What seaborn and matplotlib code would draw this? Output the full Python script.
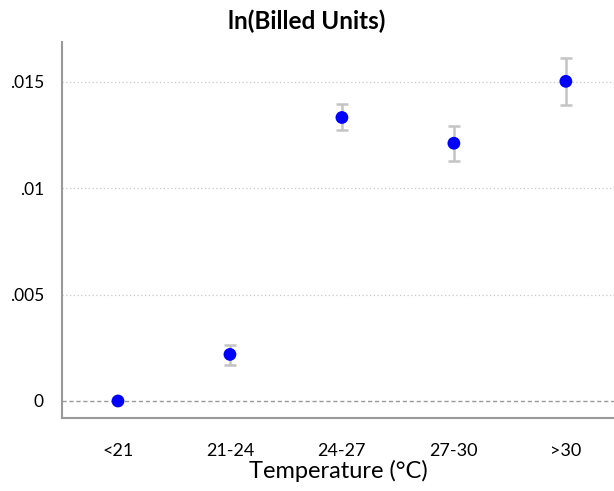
import matplotlib
matplotlib.use("Agg")
import matplotlib.pyplot as plt
import seaborn as sns
import pandas as pd
import numpy as np

categories = ["<21", "21-24", "24-27", "27-30", ">30"]
estimates = [0.0, 0.00219, 0.01333, 0.01212, 0.01503]
ci_low = [0.0, 0.00169, 0.01272, 0.01127, 0.01393]
ci_high = [0.0, 0.00263, 0.01396, 0.01295, 0.01615]
y_ticks = [0, 0.005, 0.01, 0.015]
y_ticklabels = ["0", ".005", ".01", ".015"]

sns.set_style("white")
plt.rcParams["font.family"] = ["Lato", "DejaVu Sans"]
plt.rcParams["text.color"] = "black"
plt.rcParams["axes.labelcolor"] = "black"

df = pd.DataFrame({"cat": categories, "est": estimates, "lo": ci_low, "hi": ci_high})
df["x"] = np.arange(len(df))

fig = plt.figure(figsize=(6.14, 4.91), dpi=100)
ax = fig.add_axes([62/614, 1 - 418/491, 1 - 62/614, (418 - 42)/491])

for y in y_ticks[1:]:
    ax.axhline(y, color="#c8c8c8", lw=0.9, ls=(0, (1, 2)), zorder=0)
ax.axhline(0, color="#999999", lw=1.0, ls=(0, (3, 2)), zorder=0)

mask = df["hi"] > df["lo"]
ax.errorbar(df.loc[mask, "x"], df.loc[mask, "est"],
            yerr=[df.loc[mask, "est"] - df.loc[mask, "lo"], df.loc[mask, "hi"] - df.loc[mask, "est"]],
            fmt="none", ecolor="#c4c4c4", elinewidth=1.8, capsize=4, capthick=1.8, zorder=1)
sns.scatterplot(data=df, x="x", y="est", color="#0000ff", s=85, edgecolor="none", ax=ax, zorder=3)

ax.set_xlim(-0.5, 4.43)
ax.set_ylim(-0.0008, 0.01688)
ax.set_xticks(df["x"])
ax.set_xticklabels(categories, fontsize=13)
ax.set_yticks(y_ticks)
ax.set_yticklabels(y_ticklabels, fontsize=12.5)
ax.tick_params(axis="both", direction="out", length=8, width=1.2, color="#999999", pad=5, labelcolor="black")
ax.tick_params(axis="x", pad=10)
ax.set_xlabel("Temperature (°C)", fontsize=17, labelpad=1, color="black")
ax.set_ylabel("")
fig.text(0.5, 1 - 21/491, "ln(Billed Units)", fontsize=17.5, fontweight="bold",
         ha="center", va="center", color="black")

for s in ["top", "right"]:
    ax.spines[s].set_visible(False)
for s in ["left", "bottom"]:
    ax.spines[s].set_color("#999999")
    ax.spines[s].set_linewidth(1.5)

fig.savefig("out.png", dpi=100)
